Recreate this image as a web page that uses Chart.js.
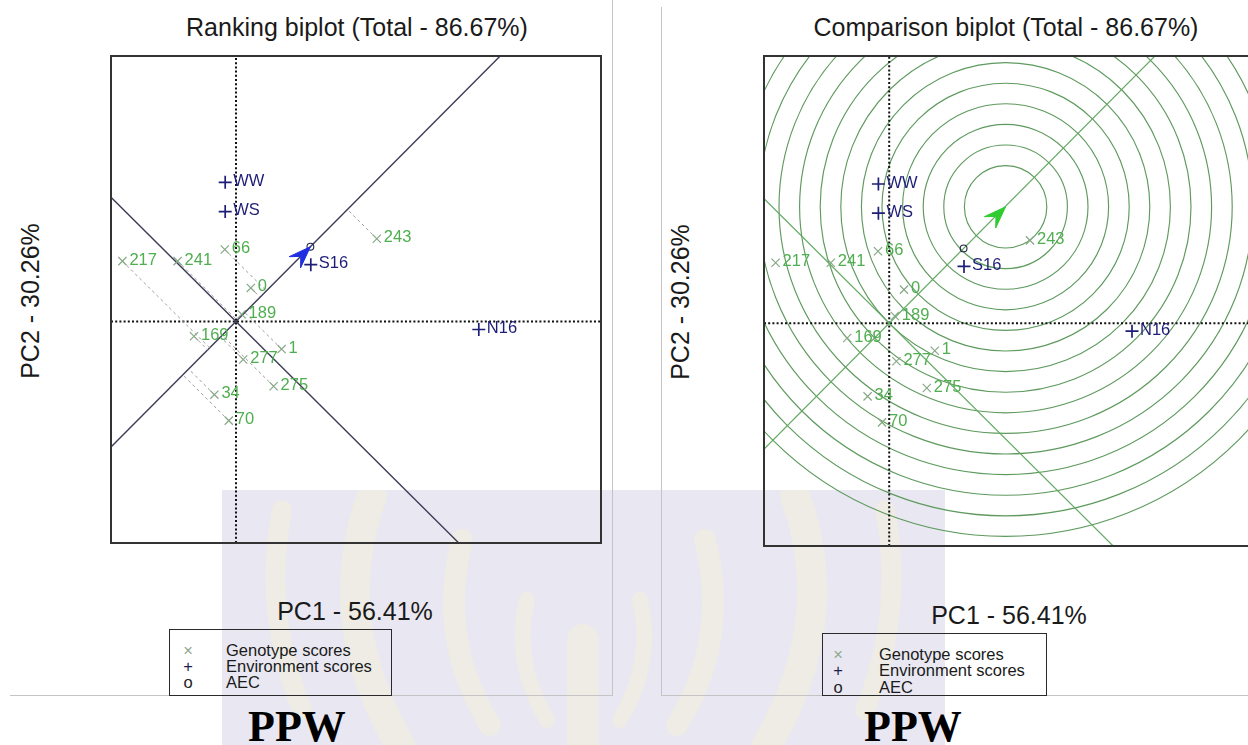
<!DOCTYPE html>
<html lang="en">
<head>
<meta charset="utf-8">
<title>GGE biplots – PPW</title>
<script src="https://cdn.jsdelivr.net/npm/chart.js@4.4.1/dist/chart.umd.min.js"></script>
<style>
  html, body { margin:0; padding:0; }
  body { width:1248px; height:745px; position:relative; overflow:hidden; background:#fff;
         font-family:"Liberation Sans", Arial, Helvetica, sans-serif; color:#1a1a1a; }
  .abs { position:absolute; }
  .title, .pc1 { font-size:25px; line-height:25px; white-space:nowrap; transform:translateX(-50%); }
  .pc2 { font-size:25px; line-height:25px; white-space:nowrap; transform:translate(-50%,-50%) rotate(-90deg); }
  .legend { border:1.5px solid #2a2a2a; box-sizing:border-box; }
  .legend .t, .legend .s { position:absolute; font-size:16.5px; line-height:16px; white-space:nowrap; }
  .legend .s { transform:translateX(-50%); }
  .ppw { font-family:"Liberation Serif","Times New Roman",serif; font-weight:bold; font-size:44px; line-height:44px;
         transform:translateX(-50%); color:#000; white-space:nowrap; }
  .rule { background:#c4c4c4; }
  canvas { position:absolute; }
</style>
</head>
<body>

<!-- crest watermark behind both panels -->
<svg class="abs" style="left:222px;top:490px" width="723" height="255" viewBox="0 0 723 255">
  <rect width="723" height="255" fill="#e9e8f2"/>
  <g fill="none" stroke="#f2efdc" stroke-linecap="round" opacity="0.6">
    <path d="M150 6 Q105 130 178 255" stroke-width="30"/>
    <path d="M240 50 Q215 150 268 235" stroke-width="22"/>
    <path d="M305 110 Q290 170 325 230" stroke-width="16"/>
    <path d="M573 6 Q618 130 545 255" stroke-width="30"/>
    <path d="M483 50 Q508 150 455 235" stroke-width="22"/>
    <path d="M418 110 Q433 170 398 230" stroke-width="16"/>
    <path d="M361 150 L361 255" stroke-width="32"/>
    <path d="M60 20 Q40 120 80 220" stroke-width="20"/>
    <path d="M663 20 Q683 120 643 220" stroke-width="20"/>
  </g>
</svg>

<!-- panel rules -->
<div class="abs rule" style="left:612px;top:0;width:1px;height:695px"></div>
<div class="abs rule" style="left:10px;top:695px;width:603px;height:1px"></div>
<div class="abs rule" style="left:661px;top:7px;width:1px;height:688px"></div>
<div class="abs rule" style="left:661px;top:695px;width:587px;height:1px"></div>

<!-- text of the ranking panel -->
<div class="abs title" style="left:357px;top:15px">Ranking biplot (Total - 86.67%)</div>
<div class="abs pc1" style="left:355px;top:599px">PC1 - 56.41%</div>
<div class="abs pc2" style="left:30px;top:301px">PC2 - 30.26%</div>
<div class="abs legend" style="left:169px;top:629px;width:223px;height:67px">
  <span class="s" style="left:18px;top:12px;color:#8fa88f">×</span>
  <span class="s" style="left:18px;top:28px;color:#1e1e50">+</span>
  <span class="s" style="left:18px;top:44px;color:#222">o</span>
  <span class="t" style="left:56px;top:12px">Genotype scores</span>
  <span class="t" style="left:56px;top:28px">Environment scores</span>
  <span class="t" style="left:56px;top:44px">AEC</span>
</div>
<div class="abs ppw" style="left:297px;top:705px">PPW</div>

<!-- text of the comparison panel -->
<div class="abs title" style="left:1006px;top:15px">Comparison biplot (Total - 86.67%)</div>
<div class="abs pc1" style="left:1009px;top:603px">PC1 - 56.41%</div>
<div class="abs pc2" style="left:680px;top:302px">PC2 - 30.26%</div>
<div class="abs legend" style="left:822px;top:633px;width:225px;height:63px">
  <span class="s" style="left:15px;top:12px;color:#8fa88f">×</span>
  <span class="s" style="left:15px;top:28px;color:#1e1e50">+</span>
  <span class="s" style="left:15px;top:45px;color:#222">o</span>
  <span class="t" style="left:56px;top:12px">Genotype scores</span>
  <span class="t" style="left:56px;top:28px">Environment scores</span>
  <span class="t" style="left:56px;top:45px">AEC</span>
</div>
<div class="abs ppw" style="left:913px;top:705px">PPW</div>

<canvas id="ranking" width="500" height="497" style="left:106px;top:51px"></canvas>
<canvas id="comparison" width="500" height="500" style="left:759px;top:51px"></canvas>

<script>
// Genotype scores (PC1, PC2)
const genotypes = ['217', '241', '66', '243', '0', '189', '169', '1', '277', '275', '34', '70'];
const genoPC1   = [-2.84, -1.46, -0.28, 3.52, 0.37, 0.14, -1.05, 1.14, 0.18, 0.94, -0.54, -0.18];
const genoPC2   = [ 1.51,  1.51,  1.80, 2.07, 0.84, 0.18, -0.37, -0.69, -0.95, -1.62, -1.83, -2.48];

// Environment scores (PC1, PC2)
const environments = ['WW', 'WS', 'S16', 'N16'];
const envPC1 = [-0.27, -0.27, 1.87, 6.07];
const envPC2 = [ 3.48,  2.75, 1.42, -0.20];

// Average environment coordinate and the ideal genotype
const aecPC   = [1.86, 1.87];
const idealPC = [2.91, 2.91];

// Concentric distance rings around the ideal genotype
const ringRadii = [1.03, 1.545, 2.06, 2.575, 3.09, 3.605, 4.12, 4.635, 5.15, 5.665, 6.18, 6.695, 7.21, 7.725, 8.24];

const FONT = '"Liberation Sans", Arial, Helvetica, sans-serif';

function seg(p, q, style) {
  return Object.assign({
    data: [{ x: p[0], y: p[1] }, { x: q[0], y: q[1] }],
    showLine: true, pointRadius: 0, pointHoverRadius: 0, fill: false
  }, style);
}

function baseDatasets(range, lineColor, lineWidth, withProjections) {
  const ds = [];
  // dotted PC axes
  const dotted = { borderColor: '#111', borderWidth: 2, borderDash: [2, 2.2], order: 9 };
  ds.push(seg([range.x[0], 0], [range.x[1], 0], dotted));
  ds.push(seg([0, range.y[0]], [0, range.y[1]], dotted));
  // AEC abscissa and ordinate through the origin
  const a = aecPC, p = [-aecPC[1], aecPC[0]];
  const lineStyle = { borderColor: lineColor, borderWidth: lineWidth, order: 8 };
  ds.push(seg([-10 * a[0], -10 * a[1]], [10 * a[0], 10 * a[1]], lineStyle));
  ds.push(seg([-10 * p[0], -10 * p[1]], [10 * p[0], 10 * p[1]], lineStyle));
  if (withProjections) {
    const aa = a[0] * a[0] + a[1] * a[1];
    genoPC1.forEach((gx, i) => {
      const gy = genoPC2[i];
      const k = (gx * a[0] + gy * a[1]) / aa;
      ds.push(seg([gx, gy], [k * a[0], k * a[1]],
        { borderColor: '#9d9d9d', borderWidth: 1, borderDash: [3, 3], order: 7 }));
    });
  }
  // genotype markers
  ds.push({
    data: genoPC1.map((x, i) => ({ x, y: genoPC2[i] })),
    showLine: false, pointStyle: 'crossRot', pointRadius: 5.8, pointHoverRadius: 5.8,
    borderColor: '#86a886', pointBorderColor: '#86a886', pointBorderWidth: 1.2, order: 2,
    markLabels: genotypes, labelColor: '#4fae4f', labelFont: '16.5px ' + FONT, labelDx: 7, labelDy: -1
  });
  // environment markers
  ds.push({
    data: envPC1.map((x, i) => ({ x, y: envPC2[i] })),
    showLine: false, pointStyle: 'cross', pointRadius: 6.5, pointHoverRadius: 6.5,
    borderColor: '#1e1e78', pointBorderColor: '#1e1e78', pointBorderWidth: 1.7, order: 1,
    markLabels: environments, labelColor: '#1e1e78', labelFont: '16.5px ' + FONT, labelDx: 8, labelDy: -1
  });
  // AEC marker
  ds.push({
    data: [{ x: aecPC[0], y: aecPC[1] }],
    showLine: false, pointStyle: 'circle', pointRadius: 3.4, pointHoverRadius: 3.4,
    borderColor: '#22224a', pointBorderColor: '#22224a', pointBackgroundColor: 'rgba(0,0,0,0)',
    pointBorderWidth: 1.1, order: 1
  });
  return ds;
}

// panel decorations: rings, arrow head, point labels and frame
function panelPlugin(spec) {
  return {
    id: 'panelDecor',
    beforeDatasetsDraw(chart) {
      if (!spec.rings) return;
      const { ctx, chartArea: ar, scales: { x, y } } = chart;
      ctx.save();
      ctx.beginPath(); ctx.rect(ar.left, ar.top, ar.right - ar.left, ar.bottom - ar.top); ctx.clip();
      const cx = x.getPixelForValue(spec.rings.center[0]);
      const cy = y.getPixelForValue(spec.rings.center[1]);
      ctx.strokeStyle = spec.rings.color; ctx.lineWidth = spec.rings.width;
      spec.rings.radii.forEach(r => {
        const rp = x.getPixelForValue(spec.rings.center[0] + r) - cx;
        ctx.beginPath(); ctx.arc(cx, cy, rp, 0, Math.PI * 2); ctx.stroke();
      });
      ctx.restore();
    },
    afterDatasetsDraw(chart) {
      const { ctx, scales: { x, y } } = chart;
      // arrow head pointing away from the origin
      if (spec.arrow) {
        const tx = x.getPixelForValue(spec.arrow.tip[0]), ty = y.getPixelForValue(spec.arrow.tip[1]);
        const ox = x.getPixelForValue(0), oy = y.getPixelForValue(0);
        const d = Math.hypot(tx - ox, ty - oy), ux = (tx - ox) / d, uy = (ty - oy) / d;
        const nx = -uy, ny = ux, L = 22, W = 8;
        const bx = tx - ux * L, by = ty - uy * L;
        ctx.save();
        ctx.fillStyle = spec.arrow.color; ctx.strokeStyle = spec.arrow.color; ctx.lineWidth = 1;
        ctx.beginPath();
        ctx.moveTo(tx, ty);
        ctx.lineTo(bx + nx * W, by + ny * W);
        ctx.lineTo(tx - ux * L * 0.62, ty - uy * L * 0.62);
        ctx.lineTo(bx - nx * W, by - ny * W);
        ctx.closePath(); ctx.fill(); ctx.stroke();
        ctx.restore();
      }
      // text labels next to the markers
      chart.data.datasets.forEach((ds, i) => {
        if (!ds.markLabels) return;
        const meta = chart.getDatasetMeta(i);
        ctx.save();
        ctx.font = ds.labelFont; ctx.fillStyle = ds.labelColor;
        ctx.textAlign = 'left'; ctx.textBaseline = 'middle';
        meta.data.forEach((pt, j) => ctx.fillText(ds.markLabels[j], pt.x + ds.labelDx, pt.y + ds.labelDy));
        ctx.restore();
      });
    },
    afterDraw(chart) {
      const { ctx, chartArea: ar } = chart;
      ctx.save();
      ctx.strokeStyle = '#333'; ctx.lineWidth = 2;
      ctx.strokeRect(ar.left, ar.top, ar.right - ar.left, ar.bottom - ar.top);
      ctx.restore();
    }
  };
}

function makeChart(id, range, datasets, spec) {
  return new Chart(document.getElementById(id), {
    type: 'scatter',
    data: { datasets },
    options: {
      responsive: false, animation: false, devicePixelRatio: 1, events: [],
      layout: { padding: 5, autoPadding: false },
      plugins: { legend: { display: false }, tooltip: { enabled: false }, title: { display: false } },
      scales: {
        x: { type: 'linear', display: false, min: range.x[0], max: range.x[1] },
        y: { type: 'linear', display: false, min: range.y[0], max: range.y[1] }
      }
    },
    plugins: [panelPlugin(spec)]
  });
}

const rankRange = { x: [-3.125, 9.125], y: [-5.54, 6.64] };
const compRange = { x: [-3.13, 9.12], y: [-5.57, 6.68] };

makeChart('ranking', rankRange,
  baseDatasets(rankRange, '#3b3b55', 1.4, true),
  { arrow: { tip: aecPC, color: '#1f2fe0' } });

makeChart('comparison', compRange,
  baseDatasets(compRange, '#63a963', 1.2, false),
  { arrow: { tip: idealPC, color: '#2fcc2f' },
    rings: { center: idealPC, radii: ringRadii, color: '#5e9a5e', width: 1.15 } });
</script>
</body>
</html>
